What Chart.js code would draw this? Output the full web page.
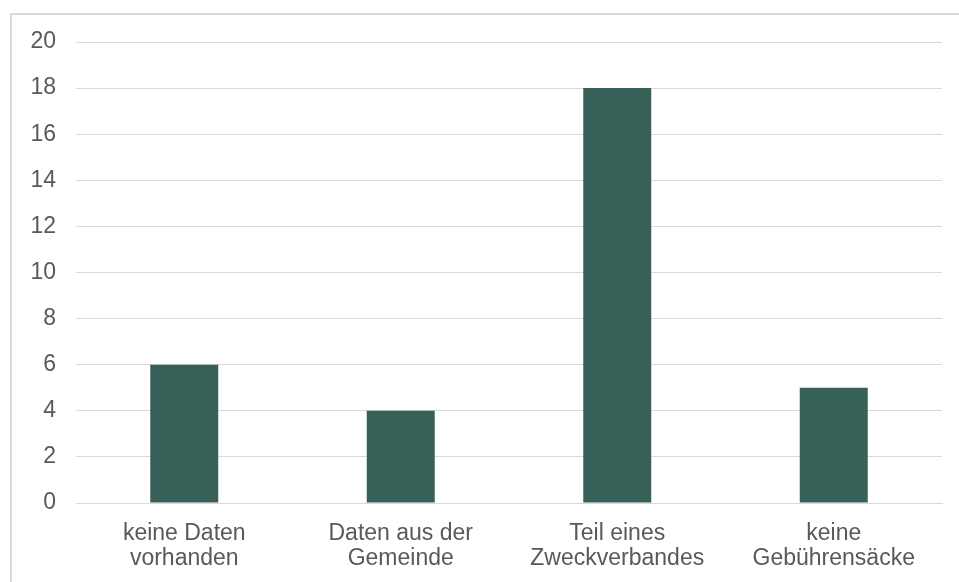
<!DOCTYPE html>
<html>
<head>
<meta charset="utf-8">
<script src="https://cdn.jsdelivr.net/npm/chart.js@4/dist/chart.umd.min.js"></script>
<style>
    html, body { margin: 0; padding: 0; background: #fff; overflow: hidden; }
    #frame { position: absolute; left: 10px; top: 13px; width: 960px; height: 580px; border-top: 2px solid #d9d9d9; border-left: 2px solid #d9d9d9; }
    #wrap { position: absolute; left: 0; top: 0; width: 959px; height: 582px; }
</style>
</head>
<body>
<div id="frame"></div>
<div id="wrap"><canvas id="chart" width="959" height="582"></canvas></div>
<script>
// Kategorien und Werte
const categories = [
    ['keine Daten', 'vorhanden'],
    ['Daten aus der', 'Gemeinde'],
    ['Teil eines', 'Zweckverbandes'],
    ['keine', 'Gebührensäcke']
];
const values = [6, 4, 18, 5];
const yTicks = [0, 2, 4, 6, 8, 10, 12, 14, 16, 18, 20];

const textColor = '#595959';
const gridColor = '#d9d9d9';
const font = { family: "'Liberation Sans', Arial, sans-serif", size: 23, lineHeight: 1.1 };

new Chart(document.getElementById('chart').getContext('2d'), {
    type: 'bar',
    data: {
        labels: categories,
        datasets: [{ data: values, backgroundColor: '#376158', barPercentage: 0.314, categoryPercentage: 1 }]
    },
    options: {
        responsive: false, animation: false,
        layout: { padding: { top: 42, right: 17, left: 0, bottom: 0 } },
        plugins: { legend: { display: false }, tooltip: { enabled: false } },
        scales: {
            x: {
                grid: { display: false, drawTicks: false },
                border: { color: gridColor, width: 1 },
                ticks: { color: textColor, font, padding: 18, maxRotation: 0 },
                afterFit: s => { s.height = 79; }
            },
            y: {
                min: 0, max: 20,
                afterBuildTicks: s => { s.ticks = yTicks.map(v => ({ value: v })); },
                grid: { color: gridColor, lineWidth: 1, drawTicks: false },
                border: { display: false },
                ticks: { color: textColor, font, padding: 20 },
                afterFit: s => { s.width = 76; }
            }
        }
    }
});
</script>
</body>
</html>
